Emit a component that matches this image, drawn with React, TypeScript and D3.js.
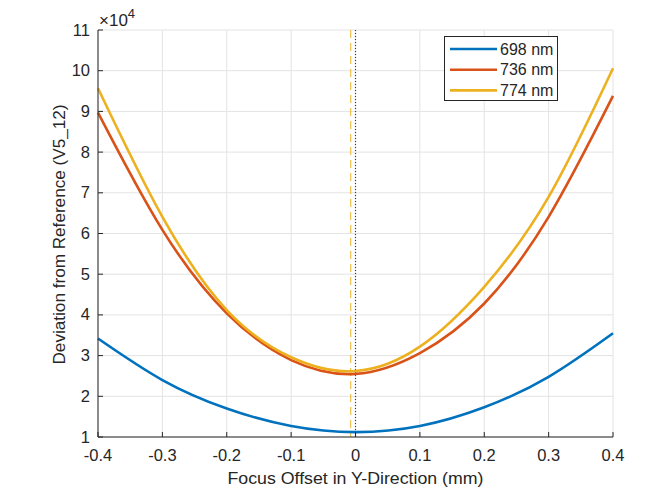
import React from "react";
import * as d3 from "d3";

const xValues = [-0.4, -0.3, -0.2, -0.1, 0, 0.1, 0.2, 0.3, 0.4];
const s698 = [3.42, 2.4, 1.7, 1.27, 1.12, 1.27, 1.73, 2.48, 3.55];
const s736 = [8.97, 6.09, 4.04, 2.89, 2.55, 3.06, 4.28, 6.41, 9.38];
const s774 = [9.57, 6.41, 4.12, 2.96, 2.62, 3.22, 4.69, 6.9, 10.06];
const seriesNames = ["698 nm", "736 nm", "774 nm"];
const seriesColors = ["#0072BD", "#D95319", "#EDB120"];
const xTicks = [-0.4, -0.3, -0.2, -0.1, 0, 0.1, 0.2, 0.3, 0.4];
const yTicks = [1, 2, 3, 4, 5, 6, 7, 8, 9, 10, 11];
const focusLine = -0.0075;

export default function App() {
  const W = 664, H = 494;
  const L = 98, R = 613, T = 30, B = 437;
  const x = d3.scaleLinear().domain([-0.4, 0.4]).range([L, R]);
  const y = d3.scaleLinear().domain([1, 11]).range([B, T]);
  const series = [s698, s736, s774];
  const line = d3
    .line<number>()
    .x((_, i) => x(xValues[i]))
    .y((d) => y(d))
    .curve(d3.curveNatural);
  const font = "'Liberation Sans', Arial, sans-serif";
  const ink = "#262626";
  return (
    <svg width={W} height={H} style={{ position: "absolute", left: 0, top: 0, background: "#fff" }} fontFamily={font}>
      <rect x={0} y={0} width={W} height={H} fill="#fff" />
      <rect x={L} y={T} width={R - L} height={B - T} fill="#fff" />
      {xTicks.map((t) => (
        <line key={"gx" + t} x1={x(t)} x2={x(t)} y1={T} y2={B} stroke="#e3e3e3" strokeWidth={1} />
      ))}
      {yTicks.map((t) => (
        <line key={"gy" + t} x1={L} x2={R} y1={y(t)} y2={y(t)} stroke="#e3e3e3" strokeWidth={1} />
      ))}
      <line x1={x(focusLine)} x2={x(focusLine)} y1={T} y2={B} stroke="#EDB120" strokeOpacity={0.8} strokeWidth={1.2} strokeDasharray="8,5" />
      <line x1={x(0)} x2={x(0)} y1={T} y2={B} stroke="#404040" strokeWidth={1.2} strokeDasharray="1,2" />
      {series.map((s, i) => (
        <path key={i} d={line(s) || ""} fill="none" stroke={seriesColors[i]} strokeWidth={2.6} />
      ))}
      {/* axes */}
      <line x1={L} x2={R} y1={B} y2={B} stroke={ink} strokeWidth={1} />
      <line x1={L} x2={L} y1={T} y2={B} stroke={ink} strokeWidth={1} />
      {xTicks.map((t) => (
        <g key={"tx" + t}>
          <line x1={x(t)} x2={x(t)} y1={B} y2={B - 5} stroke={ink} />
          <text x={x(t)} y={B + 24} textAnchor="middle" fontSize={16.5} fill={ink}>
            {t === 0 ? "0" : String(t)}
          </text>
        </g>
      ))}
      {yTicks.map((t) => (
        <g key={"ty" + t}>
          <line x1={L} x2={L + 5} y1={y(t)} y2={y(t)} stroke={ink} />
          <text x={L - 8} y={y(t) + 5.5} textAnchor="end" fontSize={16.5} fill={ink}>
            {t}
          </text>
        </g>
      ))}
      <text x={99} y={26} fontSize={17} fill={ink}>
        ×10
        <tspan dy={-8} fontSize={13}>4</tspan>
      </text>
      <text x={(L + R) / 2} y={484} textAnchor="middle" fontSize={17} fill={ink} textLength={256} lengthAdjust="spacingAndGlyphs">
        Focus Offset in Y-Direction (mm)
      </text>
      <text transform={`translate(65,${(T + B) / 2 + 1}) rotate(-90)`} textAnchor="middle" fontSize={17} fill={ink} textLength={260} lengthAdjust="spacingAndGlyphs">
        Deviation from Reference (V5_12)
      </text>
      {/* legend */}
      <rect x={444.5} y={36.5} width={113} height={64} fill="#fff" stroke={ink} strokeWidth={1} />
      {seriesNames.map((n, i) => (
        <g key={n}>
          <line x1={450} x2={497} y1={49 + i * 20.7} y2={49 + i * 20.7} stroke={seriesColors[i]} strokeWidth={2.6} />
          <text x={500} y={49 + i * 20.7 + 5.5} fontSize={16} fill={ink}>
            {n}
          </text>
        </g>
      ))}
    </svg>
  );
}
